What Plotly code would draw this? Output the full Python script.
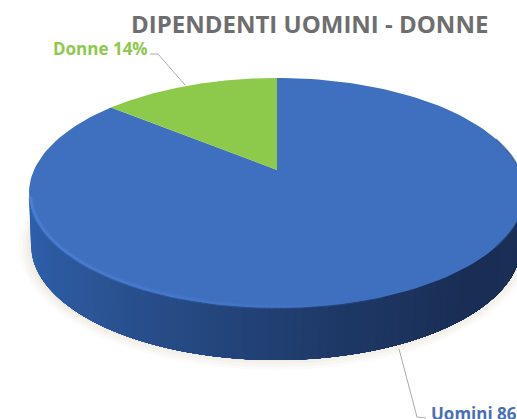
import numpy as np
import plotly.graph_objects as go

categories = ["Uomini", "Donne"]
values = [86, 14]
title_text = "DIPENDENTI UOMINI - DONNE"

W, H = 517, 419
CX, CY, RX, RY = 277, 193, 248, 115
APEX = -0.2            # perspective shift of the pie centre
DEPTH = 52
BLUE, GREEN = "#3F6FBF", "#8DC94A"

def project(theta):
    """Clockwise angle from 12 o'clock on the round pie -> page pixels."""
    x, y = np.sin(theta), -np.cos(theta)
    d = 1 + APEX * y
    return CX + RX * x * np.sqrt(1 - APEX ** 2) / d, CY + RY * (y + APEX) / d

def mix(a, b, f):
    return "rgb(" + ",".join(str(int(round(p + (q - p) * f))) for p, q in zip(a, b)) + ")"

def poly(xs, ys, color, width=0, opacity=1.0):
    return go.Scatter(x=list(xs), y=list(ys), mode="lines", fill="toself", fillcolor=color,
                      line=dict(color=color, width=width), opacity=opacity,
                      hoverinfo="skip", showlegend=False)

fig = go.Figure()

# soft shadow under the disc
for grow, op in zip([9, 6, 3, 0], [0.12, 0.16, 0.2, 0.3]):
    t = np.linspace(0, 2 * np.pi, 200)
    fig.add_trace(poly(275 + (247 + grow) * np.sin(t), CY + DEPTH + 1 + (115 + grow) * np.cos(t), "#E6DFD0", opacity=op))

# side wall: painted left to right, each layer reaching the right end, so no seams show
stops_t = np.radians([-90, -50, -15, 15, 50, 90])
stops_c = [(46, 98, 176), (44, 86, 152), (36, 70, 125), (30, 56, 102), (26, 46, 85), (27, 47, 88)]
edges = np.radians(np.linspace(-90, 90, 91))
for a in edges[:-1]:
    s = np.linspace(a, np.pi / 2, 60)
    c = [np.interp(a, stops_t, [k[i] for k in stops_c]) for i in range(3)]
    col = "rgb(%d,%d,%d)" % tuple(c)
    xt, yt = CX + RX * np.sin(s), CY + RY * np.cos(s)
    xb, yb = 276 + 245 * np.sin(s), CY + DEPTH + RY * np.cos(s)
    fig.add_trace(poly(np.r_[xt, xb[::-1]], np.r_[yt, yb[::-1]], col))

# top face slices
fractions = np.cumsum([0] + values) / sum(values) * 2 * np.pi
for i, col in enumerate([BLUE, GREEN]):
    th = np.linspace(fractions[i], fractions[i + 1], 160)
    px, py = project(th)
    apx, apy = CX, CY + RY * APEX
    fig.add_trace(poly(np.r_[apx, px, apx], np.r_[apy, py, apy], col))

# lighter rim on the front-left, darker rim on the right
rim = np.radians(np.linspace(-88, 25, 90))
for a, b in zip(rim[:-1], rim[1:]):
    m = (np.degrees(a + b) / 2 + 88) / 113
    s = np.array([a, b])
    for w, op in [(5, 0.22), (2.5, 0.45)]:
        fig.add_trace(go.Scatter(x=CX + (RX - 1.5) * np.sin(s), y=CY + (RY - 1.5) * np.cos(s), mode="lines",
                                 line=dict(color=mix((84, 140, 226), (63, 111, 191), m ** 1.4), width=w),
                                 opacity=op, hoverinfo="skip", showlegend=False))
dark = np.radians(np.linspace(62, 118, 50))
fig.add_trace(go.Scatter(x=CX + RX * np.sin(dark), y=CY + RY * np.cos(dark), mode="lines",
                         line=dict(color="#24406F", width=1.5), opacity=0.5, hoverinfo="skip", showlegend=False))

# leader lines
fig.add_trace(go.Scatter(x=[150, 158, 185], y=[54, 54, 85], mode="lines", line=dict(color="#ABABAB", width=1),
                         hoverinfo="skip", showlegend=False))
fig.add_trace(go.Scatter(x=[399, 417, 426], y=[349, 417, 418], mode="lines", line=dict(color="#ABABAB", width=1),
                         hoverinfo="skip", showlegend=False))

FONT = "Open Sans"
annotations = [
    dict(x=309, y=23, text=f"<b>{title_text}</b>", font=dict(family=FONT, size=24, color="#6E6E6E")),
    dict(x=100, y=48, text=f"<b>{categories[1]} {values[1]}%</b>", font=dict(family=FONT, size=17, color="#8DC94A")),
    dict(x=429, y=413, xanchor="left", text=f"<b>{categories[0]} {values[0]}%</b>", font=dict(family=FONT, size=17, color="#4A6FB8")),
]
for a in annotations:
    a.update(xref="x", yref="y", showarrow=False, align="center")
    a.setdefault("xanchor", "center")
    a.setdefault("yanchor", "middle")

fig.update_layout(
    width=W, height=H, margin=dict(l=0, r=0, t=0, b=0),
    paper_bgcolor="white", plot_bgcolor="white", showlegend=False,
    xaxis=dict(range=[0, W], visible=False, fixedrange=True),
    yaxis=dict(range=[H, 0], visible=False, fixedrange=True),
    annotations=annotations,
)
fig.write_html("out.html", config=dict(displayModeBar=False),
               post_script="document.body.style.margin='0';document.body.style.overflow='hidden';")
